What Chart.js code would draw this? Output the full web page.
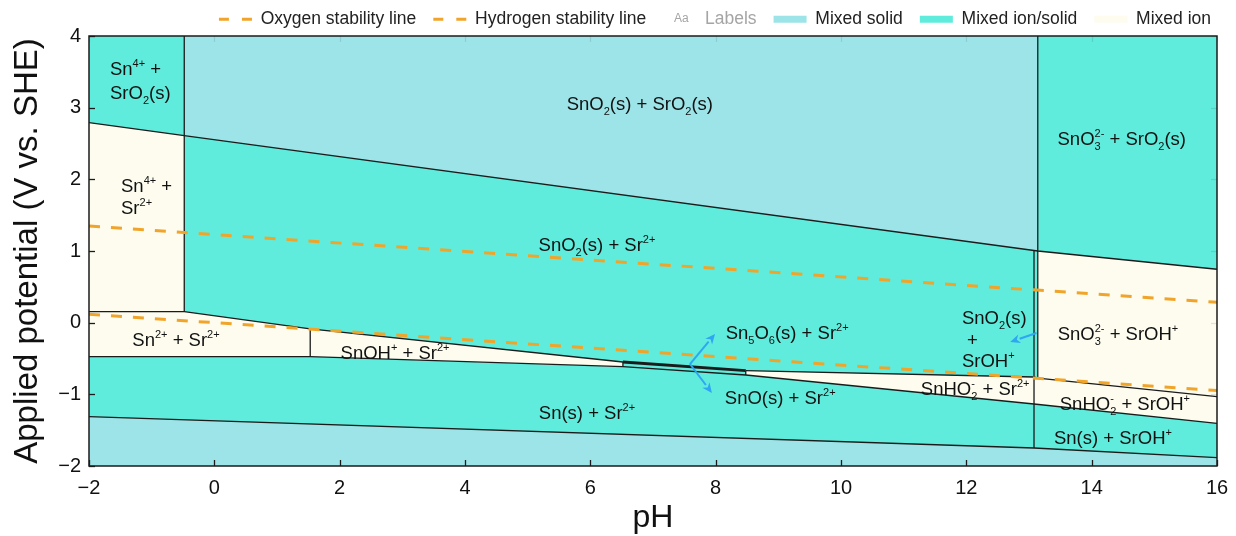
<!DOCTYPE html>
<html><head><meta charset="utf-8">
<script src="https://cdn.jsdelivr.net/npm/chart.js@4.4.1/dist/chart.umd.min.js"></script>
<style>html,body{margin:0;padding:0;background:#fff}#wrap{width:1236px;height:536px;position:relative}</style>
</head><body><div id="wrap"><canvas id="c"></canvas></div>
<script>
const FONT = "'Liberation Sans', Arial, Helvetica, sans-serif";
const COL = { solid:'#9de4e8', ionSolid:'#5fecdc', ion:'#fdfcef', oxy:'#f1a42a', hyd:'#f1a42a', line:'#1b1b1b', arrow:'#2ea6f2', text:'#111111' };

// axis ranges
const pHRange = [-2, 16];
const ERange = [-2, 4];

// ---- region polygons, vertices as [pH, E (V vs SHE)] ----
const rSn4_SrO2   = [[-2,4],[-0.48,4],[-0.48,2.61],[-2,2.79]];
const rSnO2_SrO2  = [[-0.48,4],[13.14,4],[13.14,1.0],[-0.48,2.61]];
const rSnO3_SrO2  = [[13.14,4],[16,4],[16,0.745],[13.14,1.0]];
const rSn4_Sr     = [[-2,2.79],[-0.48,2.61],[-0.48,0.155],[-2,0.155]];
const rSnO2_Sr    = [[-0.48,2.61],[13.14,1.0],[13.14,-0.775],[13.08,-0.758],[8.48,-0.67],[6.52,-0.549],[1.53,-0.088],[-0.48,0.155]];
const rSnO3_SrOH  = [[13.14,1.0],[16,0.745],[16,-1.033],[13.14,-0.775]];
const rSn2_Sr     = [[-2,0.155],[-0.48,0.155],[1.53,-0.088],[1.53,-0.475],[-2,-0.475]];
const rSnOH_Sr    = [[1.53,-0.088],[6.52,-0.549],[6.52,-0.614],[1.53,-0.475]];
const rSnO_Sr     = [[6.52,-0.549],[8.48,-0.67],[8.48,-0.73],[6.52,-0.614]];
const rSnHO2_Sr   = [[8.48,-0.67],[13.08,-0.758],[13.08,-1.135],[8.48,-0.73]];
const rSnHO2_SrOH = [[13.08,-0.758],[13.14,-0.775],[16,-1.033],[16,-1.404],[13.08,-1.135]];
const rSn_Sr      = [[-2,-0.475],[1.53,-0.475],[6.52,-0.614],[8.48,-0.73],[13.08,-1.135],[13.08,-1.749],[-2,-1.312]];
const rSn_SrOH    = [[13.08,-1.135],[16,-1.404],[16,-1.884],[13.08,-1.749]];
const rSn_Sr_s    = [[-2,-1.312],[13.08,-1.749],[16,-1.884],[16,-2],[-2,-2]];

const regions = [
  [rSn4_SrO2,'ionSolid'],[rSnO2_SrO2,'solid'],[rSnO3_SrO2,'ionSolid'],[rSn4_Sr,'ion'],
  [rSnO2_Sr,'ionSolid'],[rSnO3_SrOH,'ion'],[rSn2_Sr,'ion'],[rSnOH_Sr,'ion'],[rSnO_Sr,'ionSolid'],
  [rSnHO2_Sr,'ion'],[rSnHO2_SrOH,'ion'],[rSn_Sr,'ionSolid'],[rSn_SrOH,'ionSolid'],[rSn_Sr_s,'solid']
];

// ---- boundary lines ----
const bSrO2     = [[-2,2.79],[-0.48,2.61],[13.14,1.0],[16,0.745]];
const bSn4Vert  = [[-0.48,4],[-0.48,0.155]];
const bSnO3Vert = [[13.14,4],[13.14,-0.775]];
const bSrOHVert = [[13.08,1.009],[13.08,-1.749]];
const bSnO2Low  = [[-2,0.155],[-0.48,0.155],[1.53,-0.088],[6.52,-0.549]];
const bSn5O6    = [[6.52,-0.549],[8.48,-0.67]];
const bSnHO2Up  = [[8.48,-0.67],[13.08,-0.758],[13.14,-0.775],[16,-1.033]];
const bSnOHVert = [[1.53,-0.088],[1.53,-0.475]];
const bSnMetal  = [[-2,-0.475],[1.53,-0.475],[6.52,-0.614],[8.48,-0.73],[13.08,-1.135],[16,-1.404]];
const bSnOVertA = [[6.52,-0.549],[6.52,-0.614]];
const bSnOVertB = [[8.48,-0.67],[8.48,-0.73]];
const bSrMetal  = [[-2,-1.312],[13.08,-1.749],[16,-1.884]];
const boundaries = [bSrO2,bSn4Vert,bSnO3Vert,bSrOHVert,bSnO2Low,bSnHO2Up,bSnOHVert,bSnMetal,bSnOVertA,bSnOVertB,bSrMetal];

// ---- water stability lines ----
const oxygenLine   = [[-2,1.348],[16,0.284]];
const hydrogenLine = [[-2,0.118],[16,-0.946]];

// ---- region labels [text, pH, E, align] ----
const regionLabels = [
  ['Sn^{4+} +', -1.665, 3.553, 'left'],
  ['SrO_{2}(s)', -1.665, 3.219, 'left'],
  ['SnO_{2}(s) + SrO_{2}(s)', 6.79, 3.065, 'center'],
  ['SnO_{3}^{2-} + SrO_{2}(s)', 14.48, 2.577, 'center'],
  ['Sn^{4+} +', -1.489, 1.921, 'left'],
  ['Sr^{2+}', -1.489, 1.614, 'left'],
  ['SnO_{2}(s) + Sr^{2+}', 6.106, 1.098, 'center'],
  ['Sn^{2+} + Sr^{2+}', -0.612, -0.228, 'center'],
  ['SnOH^{+} + Sr^{2+}', 2.883, -0.409, 'center'],
  ['Sn_{5}O_{6}(s) + Sr^{2+}', 9.14, -0.13, 'center'],
  ['SnO(s) + Sr^{2+}', 9.03, -1.037, 'center'],
  ['Sn(s) + Sr^{2+}', 5.946, -1.246, 'center'],
  ['SnO_{2}(s)', 11.93, 0.079, 'left'],
  [' +', 11.93, -0.228, 'left'],
  ['SrOH^{+}', 11.93, -0.521, 'left'],
  ['SnO_{3}^{2-} + SrOH^{+}', 14.42, -0.144, 'center'],
  ['SnHO_{2}^{-} + Sr^{2+}', 12.14, -0.911, 'center'],
  ['SnHO_{2}^{-} + SrOH^{+}', 14.53, -1.121, 'center'],
  ['Sn(s) + SrOH^{+}', 14.34, -1.595, 'center']
];

// ---- pointer arrows [fromPH, fromE, toPH, toE] ----
const arrows = [
  [7.59, -0.577, 7.99, -0.158],
  [7.59, -0.577, 7.94, -0.981],
  [13.12, -0.144, 12.70, -0.27]
];

// ---- legend entries ----
const legendEntries = [
  ['Oxygen stability line', 'dash', COL.oxy],
  ['Hydrogen stability line', 'dash', COL.hyd],
  ['Labels', 'text', '#a5a5a5'],
  ['Mixed solid', 'box', COL.solid],
  ['Mixed ion/solid', 'box', COL.ionSolid],
  ['Mixed ion', 'box', COL.ion]
];

const toXY = a => a.map(([x, y]) => ({x, y}));

const datasets = [];
datasets.push({ data: toXY(oxygenLine), borderColor: COL.oxy, borderWidth: 3, borderDash: [11, 11], pointRadius: 0, fill: false, order: 1 });
datasets.push({ data: toXY(hydrogenLine), borderColor: COL.hyd, borderWidth: 3, borderDash: [11, 11], pointRadius: 0, fill: false, order: 1 });
boundaries.forEach(b => datasets.push({ data: toXY(b), borderColor: COL.line, borderWidth: 1.3, pointRadius: 0, fill: false, order: 2 }));
datasets.push({ data: toXY(bSn5O6), borderColor: COL.line, borderWidth: 2.8, pointRadius: 0, fill: false, order: 2 });
regions.forEach(([poly, kind]) => datasets.push({ data: toXY(poly), borderWidth: 0, borderColor: 'rgba(0,0,0,0)', backgroundColor: COL[kind], fill: 'shape', pointRadius: 0, order: 3 }));

function parseRich(text) {
  const segs = []; let i = 0;
  const isMark = k => (text[k] === '_' || text[k] === '^') && text[k + 1] === '{';
  while (i < text.length) {
    if (isMark(i)) { const end = text.indexOf('}', i); segs.push({t: text.slice(i + 2, end), mode: text[i] === '_' ? 'sub' : 'sup'}); i = end + 1; }
    else { let j = i; while (j < text.length && !isMark(j)) j++; segs.push({t: text.slice(i, j), mode: 'n'}); i = j; }
  }
  return segs;
}
function drawRich(ctx, text, x, cy, size, align) {
  const segs = parseRich(text);
  const small = Math.round(size * 0.62);
  let cursor = 0, subStart = 0, subW = 0; const placed = [];
  segs.forEach((s, k) => {
    const fs = s.mode === 'n' ? size : small;
    ctx.font = fs + 'px ' + FONT;
    const w = ctx.measureText(s.t).width;
    if (s.mode === 'sup' && k > 0 && segs[k - 1].mode === 'sub') {
      placed.push({s, x: subStart, fs}); cursor = subStart + Math.max(subW, w);
    } else {
      if (s.mode === 'sub') { subStart = cursor; subW = w; }
      placed.push({s, x: cursor, fs}); cursor += w;
    }
  });
  const x0 = align === 'center' ? x - cursor / 2 : x;
  const base = cy + size * 0.36;
  ctx.textAlign = 'left'; ctx.textBaseline = 'alphabetic';
  placed.forEach(p => {
    ctx.font = p.fs + 'px ' + FONT;
    let y = base;
    if (p.s.mode === 'sub') y = base + size * 0.27;
    if (p.s.mode === 'sup') y = base - size * 0.4;
    ctx.fillText(p.s.t, x0 + p.x, y);
  });
}

const annotPlugin = {
  id: 'annot',
  afterDatasetsDraw(chart) {
    const {ctx, chartArea: a, scales: {x, y}} = chart;
    ctx.save();
    // labels
    ctx.fillStyle = COL.text;
    regionLabels.forEach(([t, ph, e, al]) => drawRich(ctx, t, x.getPixelForValue(ph), y.getPixelForValue(e), 18.5, al));
    // arrows
    ctx.strokeStyle = COL.arrow; ctx.fillStyle = COL.arrow; ctx.lineWidth = 2;
    arrows.forEach(([p0, e0, p1, e1]) => {
      const x0 = x.getPixelForValue(p0), y0 = y.getPixelForValue(e0), x1 = x.getPixelForValue(p1), y1 = y.getPixelForValue(e1);
      const ang = Math.atan2(y1 - y0, x1 - x0), L = 10, W = 4.5;
      const bx = x1 - Math.cos(ang) * L, by = y1 - Math.sin(ang) * L;
      ctx.beginPath(); ctx.moveTo(x0, y0); ctx.lineTo(bx, by); ctx.stroke();
      ctx.beginPath(); ctx.moveTo(x1, y1);
      ctx.lineTo(bx + Math.sin(ang) * W, by - Math.cos(ang) * W);
      ctx.lineTo(x1 - Math.cos(ang) * (L - 3), y1 - Math.sin(ang) * (L - 3));
      ctx.lineTo(bx - Math.sin(ang) * W, by + Math.cos(ang) * W);
      ctx.closePath(); ctx.fill();
    });
    // ticks
    const seg = (x0, y0, x1, y1) => { ctx.beginPath(); ctx.moveTo(x0, y0); ctx.lineTo(x1, y1); ctx.stroke(); };
    ctx.lineWidth = 1.3;
    x.ticks.forEach(t => {
      const px = Math.round(x.getPixelForValue(t.value)) + 0.5;
      ctx.strokeStyle = COL.line; seg(px, a.bottom, px, a.bottom - 6);
      ctx.strokeStyle = 'rgba(0,0,0,0.10)'; seg(px, a.top, px, a.top + 6);
    });
    y.ticks.forEach(t => {
      const py = Math.round(y.getPixelForValue(t.value)) + 0.5;
      ctx.strokeStyle = COL.line; seg(a.left, py, a.left + 6, py);
      ctx.strokeStyle = 'rgba(0,0,0,0.10)'; seg(a.right, py, a.right - 6, py);
    });
    // frame
    ctx.strokeStyle = COL.line; ctx.lineWidth = 1.5;
    ctx.strokeRect(a.left, a.top, a.right - a.left, a.bottom - a.top);
    ctx.restore();
  },
  afterDraw(chart) {
    const hb = chart.legend && chart.legend.legendHitBoxes && chart.legend.legendHitBoxes[2];
    if (!hb) return;
    const ctx = chart.ctx; ctx.save();
    ctx.fillStyle = '#a5a5a5'; ctx.font = '12px ' + FONT; ctx.textAlign = 'center'; ctx.textBaseline = 'middle';
    ctx.fillText('Aa', hb.left + 18, hb.top + hb.height / 2 - 1);
    ctx.restore();
  }
};

const fmt = v => (v < 0 ? '\u2212' + Math.abs(v) : String(v));

new Chart(document.getElementById('c'), {
  type: 'line',
  data: { datasets },
  plugins: [annotPlugin],
  options: {
    responsive: true, maintainAspectRatio: false, animation: false, events: [],
    layout: { padding: { top: -6.5, right: 8, left: 0, bottom: 0 } },
    plugins: {
      tooltip: { enabled: false },
      legend: {
        position: 'top', align: 'end', maxHeight: 42.5, onClick: () => {},
        labels: {
          usePointStyle: true, pointStyleWidth: 33, padding: 17,
          font: { size: 17.5, family: FONT }, color: '#222',
          generateLabels: () => legendEntries.map(([text, kind, color]) => ({
            text, hidden: false, fontColor: kind === 'text' ? color : '#222',
            pointStyle: 'line', fillStyle: 'rgba(0,0,0,0)', lineCap: 'butt',
            strokeStyle: kind === 'text' ? 'rgba(0,0,0,0)' : color,
            lineWidth: kind === 'dash' ? 3 : (kind === 'box' ? 7 : 0),
            lineDash: kind === 'dash' ? [10, 13] : []
          }))
        }
      }
    },
    scales: {
      x: {
        type: 'linear', min: pHRange[0], max: pHRange[1],
        grid: { display: false, drawTicks: false }, border: { display: false },
        ticks: { stepSize: 2, padding: 10, color: COL.text, font: { size: 20, family: FONT }, callback: v => fmt(v) },
        title: { display: true, text: 'pH', color: COL.text, font: { size: 32, family: FONT, lineHeight: 1 }, padding: { top: 0, bottom: 2 } },
        afterFit: s => { s.height = 70; s.paddingRight = 19; s.paddingLeft = 0; }
      },
      y: {
        type: 'linear', min: ERange[0], max: ERange[1],
        grid: { display: false, drawTicks: false }, border: { display: false },
        ticks: { stepSize: 1, padding: 8, color: COL.text, font: { size: 20, family: FONT }, callback: v => fmt(v) },
        title: { display: true, text: 'Applied potential (V vs. SHE)', color: COL.text, font: { size: 33, family: FONT, lineHeight: 1 }, padding: { top: 11, bottom: 0 } },
        afterFit: s => { s.width = 89; }
      }
    }
  }
});
</script></body></html>
